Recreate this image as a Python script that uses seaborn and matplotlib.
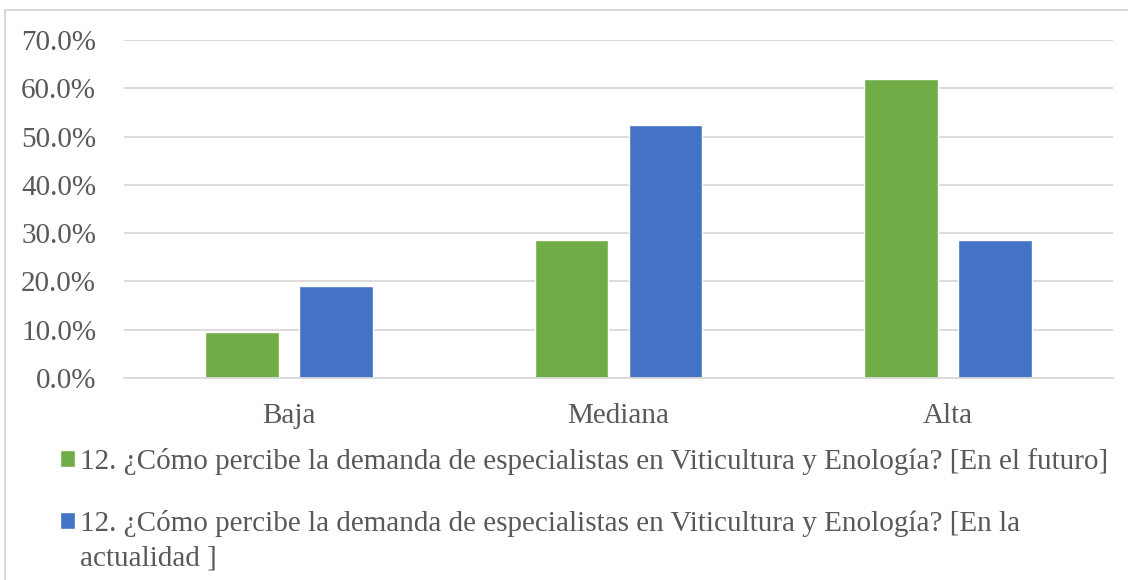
import matplotlib
matplotlib.use("Agg")
import matplotlib.pyplot as plt
import seaborn as sns
import pandas as pd
from matplotlib.ticker import PercentFormatter, MultipleLocator
from matplotlib.lines import Line2D

categories = ["Baja", "Mediana", "Alta"]
series_names = [
    "12. ¿Cómo percibe la demanda de especialistas en Viticultura y Enología? [En el futuro]",
    "12. ¿Cómo percibe la demanda de especialistas en Viticultura y Enología? [En la actualidad ]",
]
futuro = [0.095, 0.286, 0.619]
actualidad = [0.190, 0.524, 0.286]
colors = ["#70AD47", "#4472C4"]

df = pd.DataFrame({
    "cat": categories * 2,
    "serie": [series_names[0]] * 3 + [series_names[1]] * 3,
    "val": futuro + actualidad,
})

sns.set_theme(style="white")
plt.rcParams["font.family"] = ["Liberation Serif", "DejaVu Serif"]
txt = "#595959"
grid = "#D9D9D9"
FS = 21

fig = plt.figure(figsize=(11.28, 5.80), dpi=100)
ax = fig.add_axes([124/1128, 1-378/580, (1113-124)/1128, (378-40)/580])

sns.barplot(data=df, x="cat", y="val", hue="serie", palette=colors,
            width=0.57, gap=0.213, ax=ax, legend=True, saturation=1)

ax.set_ylim(0, 0.7)
ax.set_xlim(-0.5, 2.5)
ax.yaxis.set_major_locator(MultipleLocator(0.1))
ax.yaxis.set_major_formatter(PercentFormatter(1.0, decimals=1))
ax.grid(axis="y", color=grid, linewidth=1.3)
ax.set_axisbelow(True)
for s in ["top", "right", "left"]:
    ax.spines[s].set_visible(False)
ax.spines["bottom"].set_color(grid)
ax.spines["bottom"].set_linewidth(1.3)
ax.set_xlabel("")
ax.set_ylabel("")
ax.tick_params(axis="y", labelsize=FS, colors=txt, length=0, pad=20)
ax.tick_params(axis="x", labelsize=FS, colors=txt, length=0, pad=18)

handles, labels = ax.get_legend_handles_labels()
ax.get_legend().remove()
# second series name wraps in the reference: legend shows first line, continuation drawn below
cut = labels[1].rfind(" actualidad")
disp = [labels[0], labels[1][:cut]]
cont = labels[1][cut + 1:]
leg = fig.legend(handles, disp, loc="upper left", bbox_to_anchor=(60/1128, 1-448/580),
                 frameon=False, fontsize=FS, labelcolor=txt, borderpad=0, borderaxespad=0,
                 handlelength=0.52, handleheight=0.52, handletextpad=0.16,
                 labelspacing=1.2)

fig.canvas.draw()
t2 = leg.get_texts()[1]
bb = t2.get_window_extent()
fig.text(bb.x0 / fig.bbox.width, (bb.y0 - 35) / fig.bbox.height, cont,
         fontsize=FS, color=txt, ha="left", va="bottom")

fig.add_artist(Line2D([5/1128, 5/1128], [0, 1-10/580], transform=fig.transFigure, color=grid, linewidth=1.5))
fig.add_artist(Line2D([5/1128, 1], [1-10/580, 1-10/580], transform=fig.transFigure, color=grid, linewidth=1.5))

fig.savefig("out.png", dpi=100)
